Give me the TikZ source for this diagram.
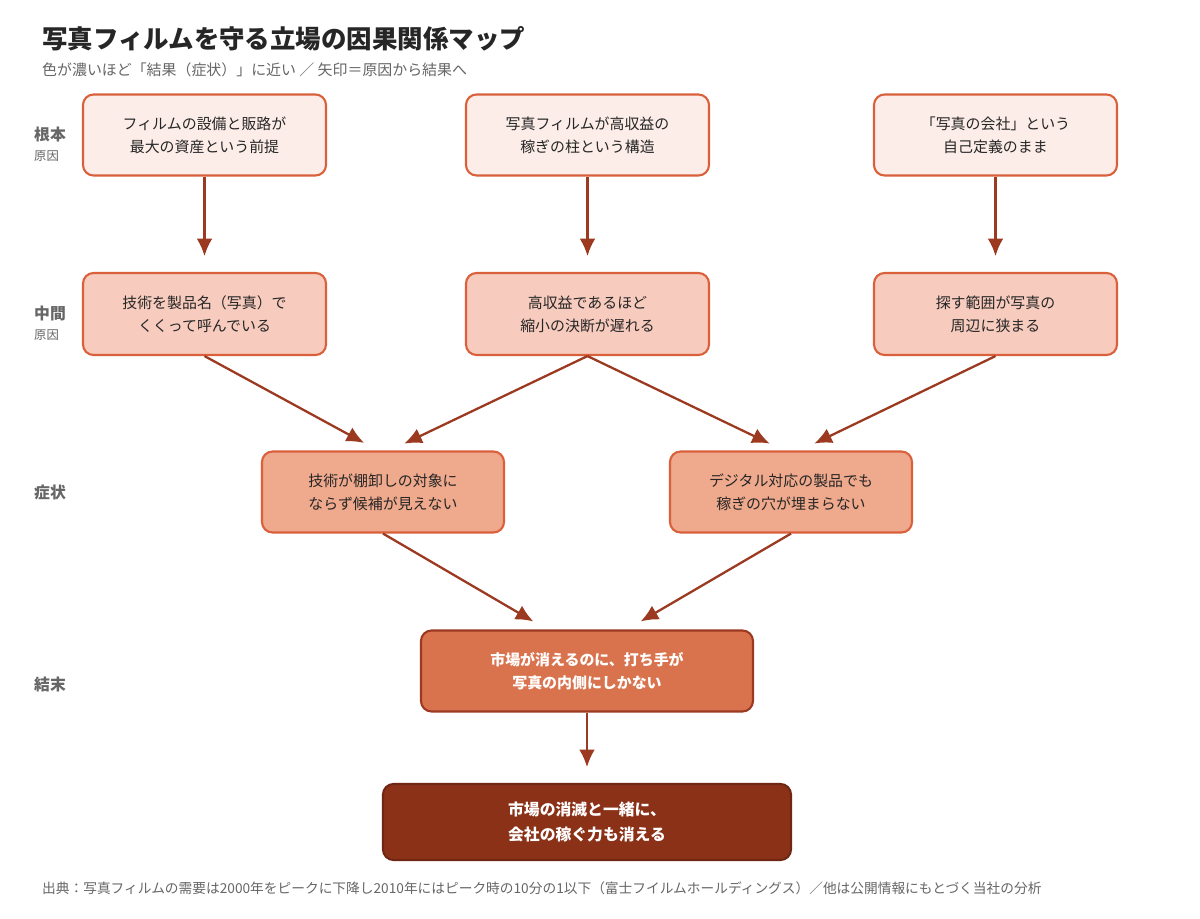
\documentclass[tikz,border=0pt]{standalone}
\usepackage{fontspec}
\setmainfont{Noto Sans CJK JP}
\usetikzlibrary{arrows.meta}
\definecolor{edge}{HTML}{D9603B}
\definecolor{arrowc}{HTML}{9B3A20}
\definecolor{fillA}{HTML}{FCEDE8}
\definecolor{fillB}{HTML}{F7CBBD}
\definecolor{fillC}{HTML}{EFA98C}
\definecolor{fillD}{HTML}{D9734E}
\definecolor{fillE}{HTML}{8B3118}
\definecolor{greytext}{HTML}{666666}
\tikzset{
  box/.style={draw=edge, line width=1.2pt, rounded corners=6pt, align=center,
    font=\fontsize{8.5}{13}\selectfont, text=black!85, inner sep=0pt},
  rowlabel/.style={anchor=west, font=\bfseries\fontsize{9}{11}\selectfont, text=greytext},
  sublabel/.style={anchor=west, font=\fontsize{7}{9}\selectfont, text=greytext},
  flow/.style={-{Latex[length=10pt,width=9pt]}, draw=arrowc, line width=1.3pt, shorten >=9pt}
}
\begin{document}
\begin{tikzpicture}[x=0.02cm, y=-0.02cm]
  \useasboundingbox[fill=white] (0,0) rectangle (1200,919);
  % title
  \node[anchor=west, font=\bfseries\fontsize{14.5}{17}\selectfont, text=black!85] (title) at (36,39) {写真フィルムを守る立場の因果関係マップ};
  \node[anchor=west, font=\fontsize{8.5}{10}\selectfont, text=greytext] (subtitle) at (36,70) {色が濃いほど「結果（症状）」に近い ／ 矢印＝原因から結果へ};
  % row labels
  \node[rowlabel] (l1) at (28,134) {根本};
  \node[sublabel] (l1s) at (28,156) {原因};
  \node[rowlabel] (l2) at (28,313) {中間};
  \node[sublabel] (l2s) at (28,335) {原因};
  \node[rowlabel] (l3) at (28,492) {症状};
  \node[rowlabel] (l4) at (28,684) {結末};
  % root causes
  \node[box, fill=fillA, minimum width=243*0.02cm, minimum height=81*0.02cm] (r1) at (204.5,135) {フィルムの設備と販路が\\最大の資産という前提};
  \node[box, fill=fillA, minimum width=243*0.02cm, minimum height=81*0.02cm] (r2) at (587.5,135) {写真フィルムが高収益の\\稼ぎの柱という構造};
  \node[box, fill=fillA, minimum width=243*0.02cm, minimum height=81*0.02cm] (r3) at (995.5,135) {「写真の会社」という\\自己定義のまま};
  % intermediate causes
  \node[box, fill=fillB, minimum width=243*0.02cm, minimum height=82*0.02cm] (m1) at (204.5,314) {技術を製品名（写真）で\\くくって呼んでいる};
  \node[box, fill=fillB, minimum width=243*0.02cm, minimum height=82*0.02cm] (m2) at (587.5,314) {高収益であるほど\\縮小の決断が遅れる};
  \node[box, fill=fillB, minimum width=243*0.02cm, minimum height=82*0.02cm] (m3) at (995.5,314) {探す範囲が写真の\\周辺に狭まる};
  % symptoms
  \node[box, fill=fillC, minimum width=242*0.02cm, minimum height=81*0.02cm] (s1) at (383,492) {技術が棚卸しの対象に\\ならず候補が見えない};
  \node[box, fill=fillC, minimum width=242*0.02cm, minimum height=81*0.02cm] (s2) at (791,492) {デジタル対応の製品でも\\稼ぎの穴が埋まらない};
  % outcome
  \node[box, fill=fillD, draw=arrowc, text=white, font=\bfseries\fontsize{8.5}{13}\selectfont, minimum width=332*0.02cm, minimum height=81*0.02cm] (o1) at (587,671) {市場が消えるのに、打ち手が\\写真の内側にしかない};
  \node[box, fill=fillE, draw=fillE!80!black, text=white, font=\bfseries\fontsize{9}{14}\selectfont, minimum width=408*0.02cm, minimum height=76*0.02cm] (o2) at (587,822) {市場の消滅と一緒に、\\会社の稼ぐ力も消える};
  % arrows
  \draw[flow] (r1) -- (m1);
  \draw[flow] (r2) -- (m2);
  \draw[flow] (r3) -- (m3);
  \draw[flow] (m1.south) -- ([xshift=-5*0.02cm]s1.north);
  \draw[flow] (m2.south) -- ([xshift=7*0.02cm]s1.north);
  \draw[flow] (m2.south) -- ([xshift=-7*0.02cm]s2.north);
  \draw[flow] (m3.south) -- ([xshift=9*0.02cm]s2.north);
  \draw[flow] (s1.south) -- ([xshift=-40*0.02cm]o1.north);
  \draw[flow] (s2.south) -- ([xshift=40*0.02cm]o1.north);
  \draw[flow] (o1) -- (o2);
  % source
  \node[anchor=west, font=\fontsize{7.8}{9}\selectfont, text=greytext] (source) at (36,888) {出典：写真フィルムの需要は2000年をピークに下降し2010年にはピーク時の10分の1以下（富士フイルムホールディングス）／他は公開情報にもとづく当社の分析};
\end{tikzpicture}
\end{document}
